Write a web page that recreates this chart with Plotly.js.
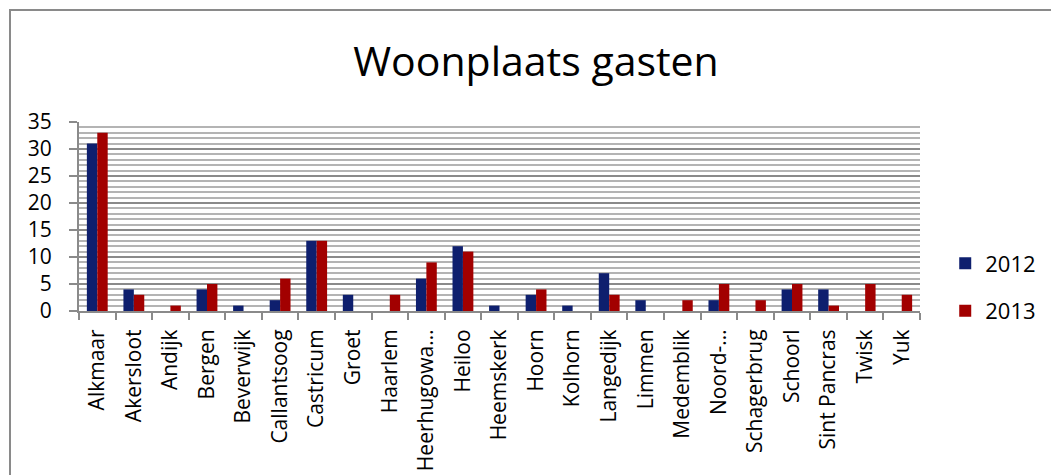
<!DOCTYPE html>
<html>
<head>
<meta charset="utf-8">
<script src="https://cdn.plot.ly/plotly-3.0.1.min.js"></script>
<style>
  html, body { margin: 0; padding: 0; background: #ffffff; }
  #frame { position: absolute; left: 9px; top: 9px; width: 1100px; height: 600px;
           border-left: 2px solid #8a8a8a; border-top: 2px solid #8a8a8a; }
  #chart { position: absolute; left: 0; top: 0; width: 1051px; height: 475px; }
</style>
</head>
<body>
<div id="frame"></div>
<div id="chart"></div>
<script>
const categories = ["Alkmaar", "Akersloot", "Andijk", "Bergen", "Beverwijk", "Callantsoog",
  "Castricum", "Groet", "Haarlem", "Heerhugowa…", "Heiloo", "Heemskerk", "Hoorn",
  "Kolhorn", "Langedijk", "Limmen", "Medemblik", "Noord-…", "Schagerbrug", "Schoorl",
  "Sint Pancras", "Twisk", "Yuk"];
const values2012 = [31, 4, 0, 4, 1, 2, 13, 3, 0, 6, 12, 1, 3, 1, 7, 2, 0, 2, 0, 4, 4, 0, 0];
const values2013 = [33, 3, 1, 5, 0, 6, 13, 0, 3, 9, 11, 0, 4, 0, 3, 0, 2, 5, 2, 5, 1, 5, 3];
const seriesNames = ["2012", "2013"];
const yTicks = [0, 5, 10, 15, 20, 25, 30, 35];

const fontFam = "'Open Sans', 'Noto Sans', sans-serif";

const traces = [
  { type: "bar", name: seriesNames[0], x: categories, y: values2012, legendgroup: "a",
    marker: { color: "#0e1f6e", line: { width: 0 } } },
  { type: "bar", name: seriesNames[1], x: categories, y: values2013, legendgroup: "b",
    marker: { color: "#a20000", line: { width: 0 } } }
];

const layout = {
  width: 1051, height: 475,
  paper_bgcolor: "rgba(0,0,0,0)", plot_bgcolor: "#ffffff",
  margin: { l: 79, r: 131, t: 122, b: 164, pad: 0, autoexpand: false },
  font: { family: fontFam, color: "#000000", size: 21 },
  title: { text: "Woonplaats gasten", font: { family: fontFam, size: 41, color: "#000000" },
           xref: "container", yref: "container", x: 0.51, xanchor: "center",
           y: 0.87, yanchor: "middle" },
  barmode: "group", bargap: 0.43, bargroupgap: 0,
  showlegend: true,
  legend: { x: 1.03, xanchor: "left", y: 0.125, yanchor: "middle",
            font: { family: fontFam, size: 22, color: "#000000" },
            traceorder: "grouped", tracegroupgap: 16, bgcolor: "rgba(0,0,0,0)" },
  xaxis: {
    type: "category", tickangle: -90, tickson: "boundaries",
    ticks: "outside", ticklen: 7, tickcolor: "#8a8a8a", tickwidth: 2,
    showline: true, linecolor: "#8a8a8a", linewidth: 2,
    showgrid: false, tickfont: { family: fontFam, size: 21, color: "#000000" },
    ticklabelstandoff: 8, automargin: false
  },
  yaxis: {
    range: [0, 35], tickvals: yTicks, ticktext: yTicks.map(String),
    ticks: "outside", ticklen: 8, tickcolor: "#8a8a8a", tickwidth: 2,
    showline: true, linecolor: "#8a8a8a", linewidth: 2,
    showgrid: true, gridcolor: "#8a8a8a", gridwidth: 2,
    minor: { dtick: 1, tick0: 0, showgrid: true, gridcolor: "#b4b4b4", gridwidth: 2, ticks: "" },
    zeroline: false, tickfont: { family: fontFam, size: 21, color: "#000000" },
    ticklabelstandoff: 13, automargin: false
  }
};

Plotly.newPlot("chart", traces, layout, { displayModeBar: false, staticPlot: true });
</script>
</body>
</html>
